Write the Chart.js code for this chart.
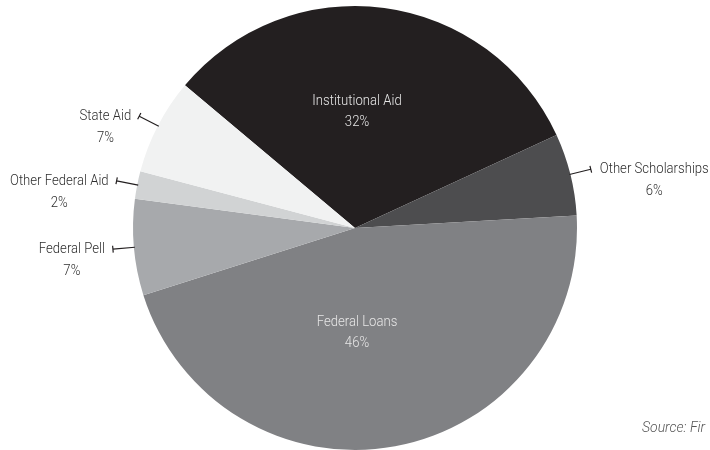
<!DOCTYPE html>
<html>
<head>
<meta charset="utf-8">
<script src="https://cdn.jsdelivr.net/npm/chart.js@4/dist/chart.umd.min.js"></script>
<style>
    html, body { margin: 0; padding: 0; background: #fff; }
    #wrap { width: 710px; height: 450px; position: relative; }
</style>
</head>
<body>
<div id="wrap"><canvas id="chart-pie"></canvas></div>
<script>
// Data
var labels = ['Institutional Aid', 'Other Scholarships', 'Federal Loans', 'Federal Pell', 'Other Federal Aid', 'State Aid'];
var shares = [32, 6, 46, 7, 2, 7];
var sliceColors = ['#231f20', '#4d4d4f', '#808184', '#a7a9ac', '#d1d3d4', '#f1f2f2'];
var insideLabel = [true, false, true, false, false, false];

var FONT = '300 15px Roboto, sans-serif';
var SQUEEZE = 0.875; // reference uses a condensed face

// draw text squeezed horizontally, anchored at x
function narrowText(ctx, text, x, y, align) {
    var w = ctx.measureText(text).width * SQUEEZE;
    var left = align === 'center' ? x - w / 2 : (align === 'right' ? x - w : x);
    ctx.save();
    ctx.translate(left, y);
    ctx.scale(SQUEEZE, 1);
    ctx.textAlign = 'left';
    ctx.fillText(text, 0, 0);
    ctx.restore();
    return w;
}

// Labels: inside ones on the vertical through the centre, outside ones with a leader
var pieLabels = {
    id: 'pieLabels',
    afterDatasetsDraw: function (chart) {
        var ctx = chart.ctx;
        var meta = chart.getDatasetMeta(0);
        ctx.save();
        ctx.font = FONT;
        ctx.textBaseline = 'middle';
        meta.data.forEach(function (arc, i) {
            var p = arc.getProps(['x', 'y', 'startAngle', 'endAngle', 'outerRadius']);
            var mid = (p.startAngle + p.endAngle) / 2;
            var pct = shares[i] + '%';
            if (insideLabel[i]) {
                var up = Math.sin(mid) < 0;
                var ly = up ? p.y - p.outerRadius * 0.572 : p.y + p.outerRadius * 0.425;
                ctx.fillStyle = '#e6e6e6';
                narrowText(ctx, labels[i], p.x + 2, ly, 'center');
                narrowText(ctx, pct, p.x + 2, ly + 21, 'center');
                return;
            }
            var cos = Math.cos(mid), sin = Math.sin(mid);
            var x0 = p.x + cos * (p.outerRadius - 1), y0 = p.y + sin * (p.outerRadius - 1);
            var x1 = p.x + cos * (p.outerRadius + 21), y1 = p.y + sin * (p.outerRadius + 21);
            ctx.strokeStyle = '#231f20';
            ctx.lineWidth = 1.2;
            ctx.beginPath();
            ctx.moveTo(x0, y0);
            ctx.lineTo(x1, y1);
            // small tick across the end
            ctx.moveTo(x1 - sin * 3.5, y1 + cos * 3.5);
            ctx.lineTo(x1 + sin * 3.5, y1 - cos * 3.5);
            ctx.stroke();

            ctx.fillStyle = '#2e2e2e';
            var w = ctx.measureText(labels[i]).width * SQUEEZE;
            var left = cos > 0 ? x1 + 9 : x1 - 8 - w;
            narrowText(ctx, labels[i], left, y1, 'left');
            narrowText(ctx, pct, left + w / 2, y1 + 22, 'center');
        });
        ctx.restore();
    }
};

var sourceNote = {
    id: 'sourceNote',
    afterDraw: function (chart) {
        var ctx = chart.ctx;
        ctx.save();
        ctx.font = 'italic 300 14px Roboto, sans-serif';
        ctx.fillStyle = '#555555';
        ctx.textAlign = 'left';
        ctx.textBaseline = 'alphabetic';
        ctx.fillText('Source: Fir', 642, 432);
        ctx.restore();
    }
};

new Chart(document.getElementById('chart-pie').getContext('2d'), {
    type: 'pie',
    data: {
        labels: labels,
        datasets: [{
            data: shares,
            backgroundColor: sliceColors,
            borderWidth: 0
        }]
    },
    options: {
        responsive: true,
        maintainAspectRatio: false,
        animation: false,
        rotation: -50,
        layout: { padding: { top: 6, bottom: 0, left: 133, right: 133 } },
        plugins: {
            legend: { display: false },
            tooltip: { enabled: false }
        }
    },
    plugins: [pieLabels, sourceNote]
});
</script>
</body>
</html>
